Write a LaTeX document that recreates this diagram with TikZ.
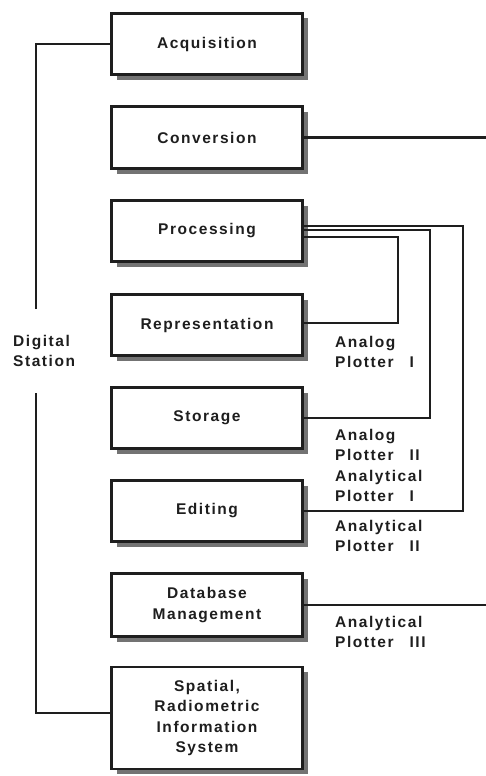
\documentclass[tikz,border=0pt]{standalone}
\usepackage{fontspec}
\newfontfamily\lblfont{Liberation Sans Bold}[LetterSpace=10]
\usetikzlibrary{shadows}
\definecolor{ink}{HTML}{1E1E1E}
\newcommand{\lblsize}{\fontsize{15.5}{20.5}\selectfont}
\tikzset{
  box/.style={draw=ink, line width=2.4pt, fill=white, minimum width=191pt, inner sep=0pt,
    align=center, font=\lblfont\lblsize, text=ink,
    general shadow={shadow xshift=5pt, shadow yshift=-5pt, fill=black!55}},
  wire/.style={draw=ink, line width=2.2pt},
  lbl/.style={align=left, anchor=base west, inner sep=0pt, text=ink,
    font=\lblfont\lblsize}
}
\begin{document}
\begin{tikzpicture}[x=1pt,y=-1pt]
\useasboundingbox (0,0) rectangle (486,776);
\node[box, minimum height=61pt] (acq) at (207,44) {Acquisition};
\node[box, minimum height=62pt] (conv) at (207,137.5) {Conversion};
\node[box, minimum height=61pt] (proc) at (207,231) {Processing};
\node[box, minimum height=61pt] (rep) at (207,325) {Representation};
\node[box, minimum height=61pt] (sto) at (207,418) {Storage};
\node[box, minimum height=61pt] (edit) at (207,511) {Editing};
\node[box, minimum height=63pt] (db) at (207,605) {Database\\Management};
\node[box, minimum height=102pt] (sris) at (207,718) {Spatial,\\Radiometric\\Information\\System};

% base anchor = baseline of last line
\node[lbl] (ds) at (13,366.5) {Digital\\Station};
\coordinate (dstop) at (36,309);
\coordinate (dsbot) at (36,393);
\draw[wire] (dstop) |- (acq.west);
\draw[wire] (dsbot) |- ([yshift=5pt]sris.west);

\coordinate (convend) at (486,137.5);
\draw[wire] (conv.east) -- (convend);

\coordinate (c3) at (463,511);
\coordinate (c2) at (430,418);
\coordinate (c1) at (398,323);
\draw[wire] ([yshift=5pt]proc.east) -| (c3) -- (edit.east);
\draw[wire] ([yshift=1pt]proc.east) -| (c2) -- (sto.east);
\draw[wire] ([yshift=-6pt]proc.east) -| (c1) -- ([yshift=2pt]rep.east);

\coordinate (dbend) at (486,605);
\draw[wire] (db.east) -- (dbend);

\node[lbl] (l1) at (335,367.5) {Analog\\Plotter\hspace{16pt}I};
\node[lbl] (l2) at (335,501.5) {Analog\\Plotter\hspace{16pt}II\\Analytical\\Plotter\hspace{16pt}I};
\node[lbl] (l3) at (335,551.5) {Analytical\\Plotter\hspace{16pt}II};
\node[lbl] (l4) at (335,647.5) {Analytical\\Plotter\hspace{16pt}III};
\end{tikzpicture}
\end{document}
